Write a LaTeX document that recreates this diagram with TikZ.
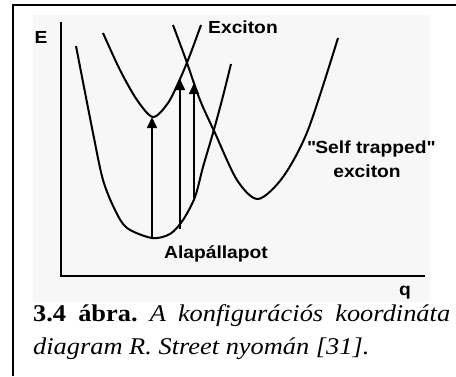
\documentclass[tikz,border=0pt]{standalone}
\usepackage{fontspec}
\setmainfont{Liberation Serif}[FakeStretch=1.1]
\newfontfamily\lblfont{Liberation Sans}[FakeStretch=1.1]
\usetikzlibrary{arrows.meta}
\frenchspacing

\tikzset{
	lbl/.style={inner sep=0pt, font=\lblfont\bfseries\fontsize{17.5}{20}\selectfont},
	curve/.style={line width=2pt, line join=round},
	trans/.style={line width=1.6pt, -{Triangle[width=10pt,length=11pt]}},
	capt/.style={inner sep=0pt, text width=417pt, align=justify, font=\fontsize{24}{33}\selectfont}
}

\begin{document}
\begin{tikzpicture}[x=1pt, y=-1pt]
			\useasboundingbox (0,0) rectangle (456,376);
			\fill[black!3] (33,15) rectangle (430,302);
			\draw[line width=1.6pt] (13,376) -- (13,5) -- (456,5);
		
			\coordinate (o) at (61,276);
			\coordinate (ytop) at (61,22);
			\coordinate (xend) at (425,276);
			\draw[line width=2pt] (ytop) -- (o) -- (xend);
		
			\node[lbl, anchor=base] (E) at (41,43) {E};
			\node[lbl, anchor=base] (q) at (405,295) {q};
		
			\draw[curve] plot[smooth] coordinates {(76,46) (93,133) (103,180) (115,210) (127,228) (152,238) (170,234) (183,220) (195,197) (203,167) (213,133) (222,100) (231,64)};
			\draw[curve] plot[smooth] coordinates {(103,33) (120,70) (137,100) (153,117) (168,103) (180,79) (190,55) (201,25)};
			\draw[curve] plot[smooth] coordinates {(173,25) (186,60) (200,100) (215,133) (237,180) (258,199) (283,177) (308,130) (338,38)};
		
			\coordinate (g1) at (152,238);
			\coordinate (g2) at (180,229);
			\coordinate (g3) at (194,198);
			\coordinate (e1) at (152,117);
			\coordinate (e2) at (180,79);
			\coordinate (s1) at (194,83);
		
			\draw[trans] (g1) -- (e1);
			\draw[trans] (g2) -- (e2);
			\draw[trans] (g3) -- (s1);
		
			\node[lbl, anchor=base] (exc) at (243,33.3) {Exciton};
			\node[lbl, anchor=base] (stl) at (371,153) {\textquotedbl Self trapped\textquotedbl};
			\node[lbl, anchor=base] (stl2) at (367,177) {exciton};
			\node[lbl, anchor=base] (gnd) at (216,258) {Alapállapot};
		
			\node[capt, anchor=base west] (cap) at (33,321) {\textbf{3.4 ábra.} \textit{A konfigurációs koordináta\break diagram R. Street nyomán [31].}};
		\end{tikzpicture}
\end{document}
